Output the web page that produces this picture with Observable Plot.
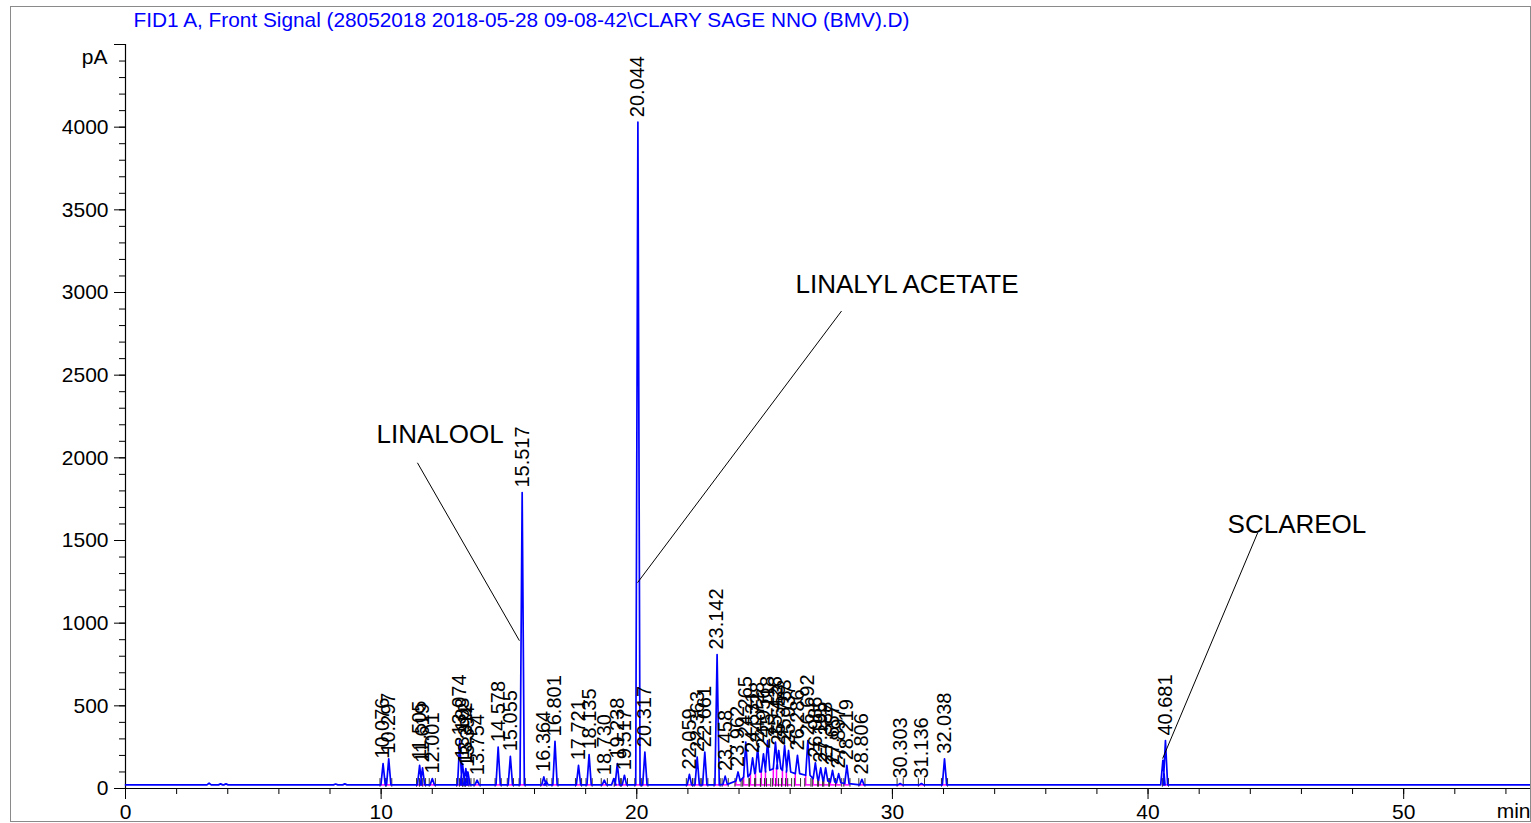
<!DOCTYPE html>
<html>
<head>
<meta charset="utf-8">
<script src="https://cdn.jsdelivr.net/npm/d3@7"></script>
<script src="https://cdn.jsdelivr.net/npm/@observablehq/plot@0.6"></script>
<style>
body { margin: 0; background: #fff; }
#wrap { position: relative; width: 1531px; height: 823px; overflow: hidden; }
#chart { position: absolute; left: 0; top: 0; }
#border { position: absolute; left: 10px; top: 6px; width: 1521px; height: 816px; border: 1.5px solid #8a8a8a; box-sizing: border-box; pointer-events: none; }
</style>
</head>
<body>
<div id="wrap"><div id="chart"></div><div id="border"></div></div>
<script>
// ---- texts ----
const titleText = "FID1 A, Front Signal (28052018 2018-05-28 09-08-42\\CLARY SAGE NNO (BMV).D)";
const yUnit = "pA";
const xUnit = "min";

// ---- axis ticks ----
const xMajorTicks = [0, 10, 20, 30, 40, 50];
const xMinorTicks = [0, 2, 4, 6, 8, 10, 12, 14, 16, 18, 20, 22, 24, 26, 28, 30, 32, 34, 36, 38, 40, 42, 44, 46, 48, 50, 52, 54];
const yMajorTicks = [0, 500, 1000, 1500, 2000, 2500, 3000, 3500, 4000, 4500];
const yMinorTicks = d3.range(0, 4501, 100);

// ---- labelled peaks (retention time, apex pA, foot pA) ----
const peakLabels = ["10.076","10.297","11.505","11.619","12.001","13.074","13.183","13.312","13.394","13.754",
  "14.578","15.055","15.517","16.364","16.801","17.721","18.135","18.730","19.238","19.517",
  "20.044","20.317","22.059","22.363","22.661","23.142","23.458","23.962","24.265","24.531",
  "24.728","24.956","25.118","25.426","25.553","25.783","25.937","26.286","26.692","26.986",
  "27.195","27.388","27.657","27.897","28.219","28.806","30.303","31.136","32.038","40.681"];
const peakTimes = [10.076,10.297,11.505,11.619,12.001,13.074,13.183,13.312,13.394,13.754,
  14.578,15.055,15.517,16.364,16.801,17.721,18.135,18.730,19.238,19.517,
  20.044,20.317,22.059,22.363,22.661,23.142,23.458,23.962,24.265,24.531,
  24.728,24.956,25.118,25.426,25.553,25.783,25.937,26.286,26.692,26.986,
  27.195,27.388,27.657,27.897,28.219,28.806,30.303,31.136,32.038,40.681];
const peakHeights = [150,180,140,125,60,290,150,120,100,50,
  250,195,1790,70,285,140,205,50,150,80,
  4030,220,85,190,220,810,75,100,280,185,
  245,210,290,280,230,260,230,200,290,155,
  125,125,110,90,140,55,30,30,180,290];
const peakFeet = [22,22,22,22,22,22,22,22,22,22,
  22,22,22,22,22,22,22,22,22,22,
  22,22,22,22,22,22,25,45,70,90,
  100,100,110,120,120,110,100,90,80,60,
  50,45,40,35,30,22,22,22,22,22];

// ---- small unlabelled peaks ----
const minorTimes = [3.27, 3.72, 3.93, 8.22, 8.58, 16.45, 19.10, 40.58];
const minorHeights = [32, 28, 28, 27, 28, 45, 60, 170];

const baselineLevel = 22;
const timeRange = [0, 55];

// ---- compound annotations ----
const annText = ["LINALOOL", "LINALYL ACETATE", "SCLAREOL"];
const annX = [9.82, 26.21, 43.11];
const annY = [2140, 3050, 1595];
const leadX1 = [11.42, 28.01, 44.29];
const leadY1 = [1970, 2888, 1547];
const leadX2 = [15.41, 20.03, 40.57];
const leadY2 = [894, 1245, 181];

// ---- build tables ----
const peaks = peakTimes.map((t, i) => ({t, h: peakHeights[i], foot: peakFeet[i], label: peakLabels[i]}));
const allPeaks = peaks.concat(minorTimes.map((t, i) => ({t, h: minorHeights[i], foot: baselineLevel})))
  .sort((a, b) => a.t - b.t);
const halfW = 0.085;
const signal = [{t: timeRange[0], v: baselineLevel}];
for (const p of allPeaks) {
  signal.push({t: p.t - halfW, v: p.foot}, {t: p.t, v: p.h}, {t: p.t + halfW, v: p.foot});
}
signal.push({t: timeRange[1], v: baselineLevel});

const markers = [];
for (const p of peaks) { markers.push({t: p.t - 0.12}, {t: p.t + 0.12}); }
const clusterDrops = peaks.filter(p => p.foot > baselineLevel);

const ann = annText.map((s, i) => ({s, x: annX[i], y: annY[i]}));
const leaders = annText.map((s, i) => ({x1: leadX1[i], y1: leadY1[i], x2: leadX2[i], y2: leadY2[i]}));

const font = "'Liberation Sans', Arial, Helvetica, sans-serif";

const chart = Plot.plot({
  width: 1531,
  height: 823,
  marginLeft: 125,
  marginRight: 0,
  marginTop: 44,
  marginBottom: 35,
  x: {domain: timeRange, label: null},
  y: {domain: [0, 4500], label: null},
  style: {fontFamily: font, fontSize: "21px", color: "#000", background: "transparent", overflow: "visible"},
  marks: [
    Plot.axisY(yMinorTicks, {tickSize: 6, tickFormat: () => "", label: null}),
    Plot.axisY(yMajorTicks, {tickSize: 11, tickPadding: 6, tickFormat: d => d === 4500 ? "" : String(d), fontSize: 21, label: null}),
    Plot.axisX(xMinorTicks, {tickSize: 6, tickFormat: () => "", label: null}),
    Plot.axisX(xMajorTicks, {tickSize: 11, tickPadding: 5, fontSize: 21, label: null}),
    Plot.ruleX([0], {stroke: "#000", strokeWidth: 1.2}),
    Plot.ruleY([0], {stroke: "#000", strokeWidth: 1.2}),
    // integration baselines (magenta)
    Plot.ruleY(peaks, {y: () => baselineLevel, x1: d => d.t - 0.12, x2: d => d.t + 0.12, stroke: "#ff00ff", strokeWidth: 1.5}),
    Plot.ruleX(clusterDrops, {x: d => d.t - halfW, y1: baselineLevel, y2: "foot", stroke: "#ff00ff", strokeWidth: 1.5}),
    // peak start/end markers
    Plot.ruleX(markers, {x: "t", y1: 8, y2: 60, stroke: "#333", strokeWidth: 1}),
    // signal
    Plot.line(signal, {x: "t", y: "v", stroke: "#0000ff", strokeWidth: 1.7}),
    // retention time labels
    Plot.text(peaks, {x: "t", y: "h", text: "label", rotate: -90, textAnchor: "start", lineAnchor: "middle", dy: -5, fontSize: 20, fill: "#000"}),
    // annotations
    Plot.link(leaders, {x1: "x1", y1: "y1", x2: "x2", y2: "y2", stroke: "#000", strokeWidth: 1}),
    Plot.text(ann, {x: "x", y: "y", text: "s", textAnchor: "start", lineAnchor: "middle", fontSize: 26, fill: "#000"}),
    // title and units
    Plot.text([titleText], {frameAnchor: "top-left", dx: 8, dy: -24, textAnchor: "start", lineAnchor: "middle", fill: "#0000ff", fontSize: 20.8}),
    Plot.text([yUnit], {frameAnchor: "top-left", dx: -18, dy: 13, textAnchor: "end", lineAnchor: "middle", fontSize: 21}),
    Plot.text([xUnit], {frameAnchor: "bottom-right", dx: -1, dy: 23, textAnchor: "end", lineAnchor: "middle", fontSize: 21})
  ]
});
document.getElementById("chart").appendChild(chart);
</script>
</body>
</html>
